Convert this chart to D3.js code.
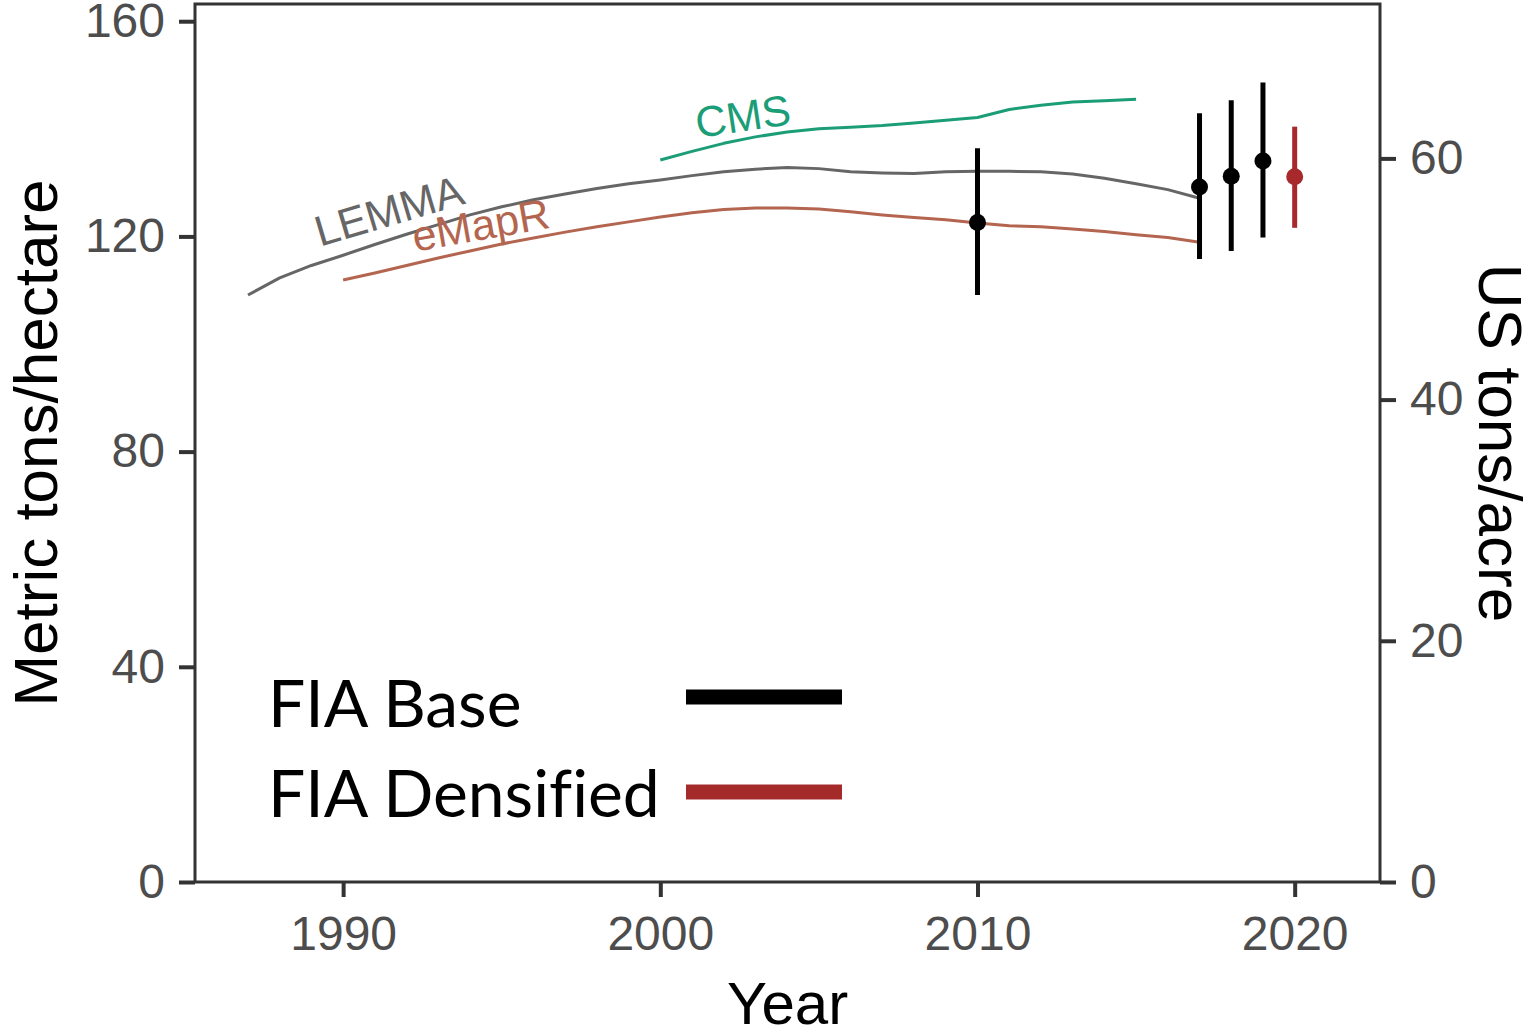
<!DOCTYPE html>
<html>
<head>
<meta charset="utf-8">
<script src="https://cdn.jsdelivr.net/npm/d3@7"></script>
<style>
  html, body { margin: 0; padding: 0; background: #fff; }
  svg { display: block; }
</style>
</head>
<body>
<svg id="chart" width="1529" height="1034"></svg>
<script>
// ---------------- DATA ----------------
const lemmaYears = [1987,1988,1989,1990,1991,1992,1993,1994,1995,1996,1997,1998,1999,2000,2001,2002,2003,2004,2005,2006,2007,2008,2009,2010,2011,2012,2013,2014,2015,2016,2017];
const lemmaValues = [109.1,112.3,114.6,116.5,118.5,120.4,122.2,124.0,125.5,126.8,127.9,128.9,129.8,130.5,131.3,132.0,132.5,132.8,132.6,132.0,131.8,131.7,132.0,132.1,132.1,132.0,131.6,130.8,129.8,128.7,127.1];

const emaprYears = [1990,1991,1992,1993,1994,1995,1996,1997,1998,1999,2000,2001,2002,2003,2004,2005,2006,2007,2008,2009,2010,2011,2012,2013,2014,2015,2016,2017];
const emaprValues = [111.9,113.2,114.6,116.0,117.3,118.6,119.7,120.8,121.8,122.7,123.6,124.4,125.0,125.3,125.3,125.1,124.6,124.0,123.5,123.1,122.5,122.0,121.8,121.4,120.9,120.3,119.8,118.9];

const cmsYears = [2000,2001,2002,2003,2004,2005,2006,2007,2008,2009,2010,2011,2012,2013,2014,2015];
const cmsValues = [134.2,135.8,137.3,138.5,139.4,140.0,140.3,140.6,141.1,141.6,142.1,143.6,144.4,145.0,145.2,145.5];

const fiaBaseYears = [2010, 2017, 2018, 2019];
const fiaBaseMean  = [122.6, 129.2, 131.2, 134.0];
const fiaBaseLow   = [109.1, 115.8, 117.3, 119.8];
const fiaBaseHigh  = [136.4, 142.9, 145.3, 148.6];

const fiaDensYears = [2020];
const fiaDensMean  = [131.1];
const fiaDensLow   = [121.6];
const fiaDensHigh  = [140.4];

const xTicks = [1990, 2000, 2010, 2020];
const yTicksMetric = [0, 40, 80, 120, 160];
const yTicksUS = [0, 20, 40, 60];
const TONHA_TO_TONAC = 0.44609;

const legendLabels = ["FIA Base", "FIA Densified"];

// series text labels (anchor in data units, angle in degrees)
const seriesLabels = [
  {text: "LEMMA", year: 1991.58, value: 122.1, angle: -16.5, color: "#666666"},
  {text: "eMapR", year: 1994.42, value: 119.4, angle: -10,   color: "#b4654f"},
  {text: "CMS",   year: 2002.67, value: 139.6, angle: -8.5,  color: "#1b9e77"}
];

// ---------------- LAYOUT ----------------
const svg = d3.select("#chart");
const L = 195, R = 1380, T = 4, B = 882;
const axisFont = "'Liberation Sans', Arial, sans-serif";
const tickColor = "#4d4d4d";
const frameColor = "#333333";

const x = d3.scaleLinear().domain([1985.33, 2022.69]).range([L, R]);
const yTop = 163.2;
const y = d3.scaleLinear().domain([0, yTop]).range([B, T]);
const yR = d3.scaleLinear().domain([0, yTop * TONHA_TO_TONAC]).range([B, T]);

// Axes
function styleAxis(g) {
  g.select(".domain").remove();
  g.selectAll(".tick line").attr("stroke", frameColor).attr("stroke-width", 4);
  g.selectAll(".tick text").attr("fill", tickColor).style("font-family", axisFont).style("font-size", "48px");
}

svg.append("g").attr("transform", `translate(0,${B})`)
  .call(d3.axisBottom(x).tickValues(xTicks).tickFormat(d3.format("d")).tickSize(15).tickPadding(19))
  .call(styleAxis);

svg.append("g").attr("transform", `translate(${L},0)`)
  .call(d3.axisLeft(y).tickValues(yTicksMetric).tickFormat(d3.format("d")).tickSize(16).tickPadding(14))
  .call(styleAxis);

svg.append("g").attr("transform", `translate(${R},0)`)
  .call(d3.axisRight(yR).tickValues(yTicksUS).tickFormat(d3.format("d")).tickSize(16).tickPadding(14))
  .call(styleAxis);

// Series lines
const line = d3.line().x(d => x(d[0])).y(d => y(d[1]));
const seriesDefs = [
  {years: lemmaYears, values: lemmaValues, color: "#666666"},
  {years: emaprYears, values: emaprValues, color: "#b4654f"},
  {years: cmsYears, values: cmsValues, color: "#1b9e77"}
];
seriesDefs.forEach(s => {
  svg.append("path")
    .datum(s.years.map((yr, i) => [yr, s.values[i]]))
    .attr("d", line)
    .attr("fill", "none")
    .attr("stroke", s.color)
    .attr("stroke-width", 3)
    .attr("stroke-linejoin", "round");
});

// Series labels
svg.selectAll(".slabel").data(seriesLabels).enter().append("text")
  .attr("class", "slabel")
  .attr("transform", d => `translate(${x(d.year)},${y(d.value)}) rotate(${d.angle})`)
  .attr("text-anchor", "middle")
  .attr("fill", d => d.color)
  .style("font-family", axisFont)
  .style("font-size", "43px")
  .text(d => d.text);

// Error bars + points
function drawFIA(years, mean, low, high, color) {
  const data = years.map((yr, i) => ({yr, m: mean[i], lo: low[i], hi: high[i]}));
  const g = svg.append("g");
  g.selectAll("line").data(data).enter().append("line")
    .attr("x1", d => x(d.yr)).attr("x2", d => x(d.yr))
    .attr("y1", d => y(d.lo)).attr("y2", d => y(d.hi))
    .attr("stroke", color).attr("stroke-width", 5);
  g.selectAll("circle").data(data).enter().append("circle")
    .attr("cx", d => x(d.yr)).attr("cy", d => y(d.m))
    .attr("r", 8.5).attr("fill", color);
}
drawFIA(fiaBaseYears, fiaBaseMean, fiaBaseLow, fiaBaseHigh, "#000000");
drawFIA(fiaDensYears, fiaDensMean, fiaDensLow, fiaDensHigh, "#a8292b");

// Frame
svg.append("rect")
  .attr("x", L).attr("y", T).attr("width", R - L).attr("height", B - T)
  .attr("fill", "none").attr("stroke", frameColor).attr("stroke-width", 3);

// Axis titles
svg.append("text")
  .attr("transform", `translate(${(L + R) / 2},1024)`)
  .attr("text-anchor", "middle")
  .style("font-family", axisFont).style("font-size", "60px").attr("fill", "#000")
  .text("Year");

svg.append("text")
  .attr("transform", `translate(57,${(T + B) / 2}) rotate(-90)`)
  .attr("text-anchor", "middle")
  .style("font-family", axisFont).style("font-size", "62px").attr("fill", "#000")
  .text("Metric tons/hectare");

svg.append("text")
  .attr("transform", `translate(1479,${(T + B) / 2}) rotate(90)`)
  .attr("text-anchor", "middle")
  .style("font-family", axisFont).style("font-size", "62px").attr("fill", "#000")
  .text("US tons/acre");

// Legend
const legendColors = ["#000000", "#a52a2a"];
const legendFont = "Lato, 'Open Sans', sans-serif";
legendLabels.forEach((lab, i) => {
  svg.append("text")
    .attr("x", 268).attr("y", 727 + i * 90)
    .style("font-family", legendFont).style("font-size", "66px")
    .style("font-variant-ligatures", "none").style("font-feature-settings", "'liga' 0")
    .attr("fill", "#000")
    .text(lab);
  svg.append("line")
    .attr("x1", 686).attr("x2", 842)
    .attr("y1", 697 + i * 95).attr("y2", 697 + i * 95)
    .attr("stroke", legendColors[i]).attr("stroke-width", 15);
});
</script>
</body>
</html>
